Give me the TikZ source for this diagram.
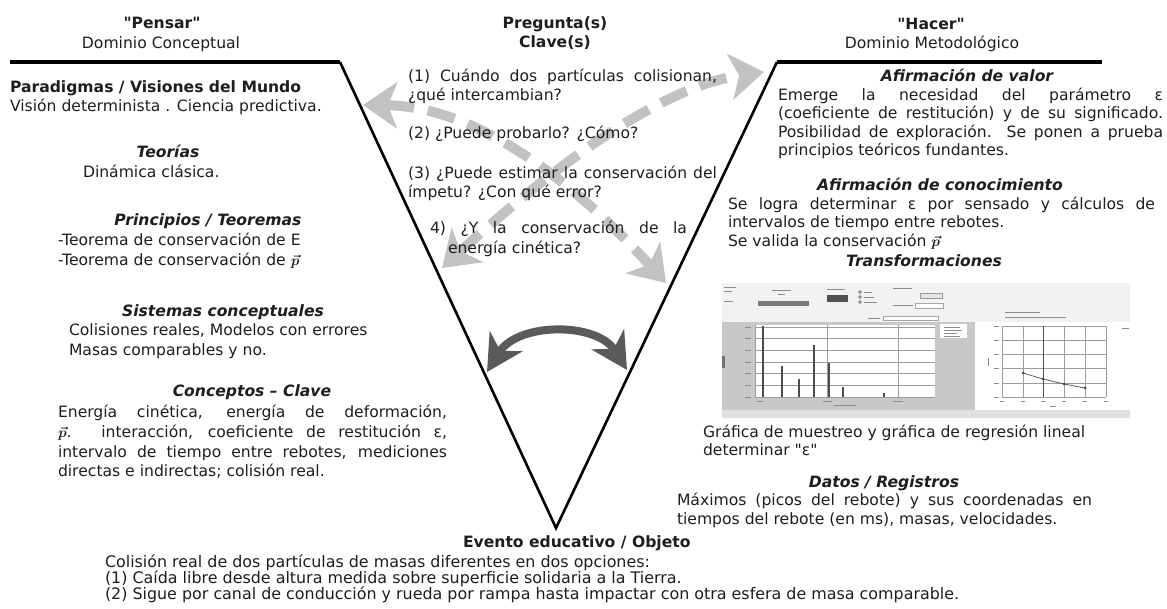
\documentclass[tikz,border=0pt]{standalone}
\usepackage{fontspec}
\usepackage{bm}
\setmainfont{DejaVu Sans}[Ligatures=TeXOff,ItalicFont={DejaVu Sans Oblique},BoldFont={DejaVu Sans Bold},BoldItalicFont={DejaVu Sans Bold Oblique}]
\usetikzlibrary{arrows.meta}
\definecolor{ink}{HTML}{1E1E1E}
\definecolor{arrowgray}{HTML}{C2C2C2}
\definecolor{arcgray}{HTML}{5A5A5A}
\definecolor{panelgray}{HTML}{ECECEC}
\definecolor{chartgray}{HTML}{C8C8C8}
\definecolor{gridgray}{HTML}{9C9C9C}
\definecolor{tinygray}{HTML}{8C8C8C}
% stretch one line of a justified paragraph to a given width
\newcommand\jl[2]{\makebox[#1][s]{#2}}
\newcommand\pvec{$\smash{\bm{\vec{p}}}$}

\tikzset{
  every node/.style={inner sep=0pt, outer sep=0pt, text=ink},
  body/.style={font=\fontsize{15.6}{19}\selectfont},
  headb/.style={font=\fontsize{15.6}{19}\selectfont\bfseries},
  secb/.style={font=\fontsize{15.6}{19}\selectfont\bfseries\itshape},
  foot/.style={font=\fontsize{15.9}{19}\selectfont},
  vtop/.style={draw=black, line width=3.2pt, line cap=butt},
  vside/.style={draw=black, line width=2.6pt, line join=miter},
  qarrow/.style={draw=arrowgray, line width=10pt, dash pattern=on 28pt off 14pt,
    {Stealth[length=34pt,width=46pt,inset=9pt]}-{Stealth[length=34pt,width=46pt,inset=9pt]}},
  arcarrow/.style={draw=arcgray, line width=8pt,
    {Stealth[length=36pt,width=38pt,inset=11pt]}-{Stealth[length=36pt,width=38pt,inset=11pt]}},
  gridl/.style={draw=gridgray, line width=0.7pt},
  spike/.style={draw=black!70, line width=1.4pt},
  tiny/.style={draw=tinygray, line width=0.9pt},
}

\begin{document}
\begin{tikzpicture}[x=1pt,y=-1pt]
\useasboundingbox (0,0) rectangle (1167,608);
\fill[white] (0,0) rectangle (1167,608);

% ---------- crossing question arrows (under the text) ----------
\coordinate (xa1) at (363,105);
\coordinate (xa2) at (666,283);
\coordinate (xb1) at (442,268);
\coordinate (xb2) at (764,72);
\draw[qarrow] (xa1) .. controls (470,106) and (565,172) .. (xa2);
\draw[qarrow] (xb1) .. controls (530,188) and (650,88) .. (xb2);

% ---------- the V ----------
\coordinate (tl) at (10,62);
\coordinate (cl) at (340,62);
\coordinate (vx) at (556,528);
\coordinate (cr) at (777,62);
\coordinate (tr) at (1102,62);
\draw[vtop] (tl) -- (cl);
\draw[vtop] (cr) -- (tr);
\draw[vside] (cl) -- (vx) -- (cr);

% ---------- interplay arc ----------
\coordinate (arcl) at (487,372);
\coordinate (arcr) at (627,370);
\draw[arcarrow] (arcl) .. controls (518,322) and (597,322) .. (arcr);

% ---------- headings ----------
\node[headb, anchor=base] (pensar) at (162,28) {"Pensar"};
\node[body, anchor=base] (domc) at (161,48) {Dominio Conceptual};
\node[headb, anchor=base] (preg) at (555,28) {Pregunta(s)};
\node[headb, anchor=base] (clave) at (555,47) {Clave(s)};
\node[headb, anchor=base] (hacer) at (931,29) {"Hacer"};
\node[body, anchor=base] (domm) at (932,48) {Dominio Metodológico};

% ---------- conceptual side ----------
\node[headb, anchor=base west] (parad) at (10,92) {Paradigmas / Visiones del Mundo};
\node[body, anchor=base west] (vision) at (10,111) {Visión determinista . Ciencia predictiva.};
\node[secb, anchor=base] (teor) at (168,157) {Teorías};
\node[body, anchor=base west] (dinam) at (83,177) {Dinámica clásica.};
\node[secb, anchor=base] (princ) at (208,225) {Principios / Teoremas};
\node[body, anchor=base west] (teo1) at (58,245) {-Teorema de conservación de E};
\node[body, anchor=base west] (teo2) at (58,265) {-Teorema de conservación de \pvec};
\node[secb, anchor=base] (sist) at (223,316) {Sistemas conceptuales};
\node[body, anchor=base west] (colis) at (69,335) {Colisiones reales, Modelos con errores};
\node[body, anchor=base west] (masas) at (69,355) {Masas comparables y no.};
\node[secb, anchor=base] (conc) at (252,396) {Conceptos – Clave};
\node[body, anchor=base west] (cc1) at (58,417) {\jl{389pt}{Energía cinética, energía de deformación,}};
\node[body, anchor=base west] (cc2) at (58,437) {\jl{389pt}{\pvec. interacción, coeficiente de restitución ε,}};
\node[body, anchor=base west] (cc3) at (58,457) {\jl{389pt}{intervalo de tiempo entre rebotes, mediciones}};
\node[body, anchor=base west] (cc4) at (58,476) {directas e indirectas; colisión real.};

% ---------- key questions ----------
\node[body, anchor=base west] (q1a) at (408,81) {\jl{309pt}{(1) Cuándo dos partículas colisionan,}};
\node[body, anchor=base west] (q1b) at (408,100) {¿qué intercambian?};
\node[body, anchor=base west] (q2) at (408,138) {(2) ¿Puede probarlo? ¿Cómo?};
\node[body, anchor=base west] (q3a) at (408,178) {\jl{309pt}{(3) ¿Puede estimar la conservación del}};
\node[body, anchor=base west] (q3b) at (408,197) {ímpetu? ¿Con qué error?};
\node[body, anchor=base west] (q4a) at (430,233) {\jl{257pt}{4) ¿Y la conservación de la}};
\node[body, anchor=base west] (q4b) at (448,253) {energía cinética?};

% ---------- methodological side ----------
\node[secb, anchor=base] (afv) at (967,81) {Afirmación de valor};
\node[body, anchor=base west] (v1) at (778,100) {\jl{385pt}{Emerge la necesidad del parámetro ε}};
\node[body, anchor=base west] (v2) at (778,118) {\jl{385pt}{(coeficiente de restitución) y de su significado.}};
\node[body, anchor=base west] (v3) at (778,137) {\jl{385pt}{Posibilidad de exploración. Se ponen a prueba}};
\node[body, anchor=base west] (v4) at (778,155) {principios teóricos fundantes.};
\node[secb, anchor=base] (afc) at (940,190) {Afirmación de conocimiento};
\node[body, anchor=base west] (k1) at (728,209) {\jl{427pt}{Se logra determinar ε por sensado y cálculos de}};
\node[body, anchor=base west] (k2) at (728,227) {intervalos de tiempo entre rebotes.};
\node[body, anchor=base west] (k3) at (728,246) {Se valida la conservación \pvec};
\node[secb, anchor=base] (trans) at (924,266) {Transformaciones};

% ---------- software screenshot ----------
\fill[panelgray] (722,283) rectangle (1130,418);
\fill[black!5] (722,283) rectangle (1130,322);
% toolbar widgets
\draw[tiny] (724,287) -- (736,287) (724,291) -- (732,291) (724,301) -- (733,301);
\draw[tiny] (772,290) -- (791,290) (778,294) -- (785,294);
\fill[black!52] (758,301) rectangle (809,306);
\draw[tiny] (827,289) -- (845,289);
\fill[black!68] (827,295) rectangle (848,302);
\foreach \yy in {292,297,302} {
  \draw[black!55, line width=0.6pt] (860,\yy) circle (1.4);
}
\draw[tiny] (864,292) -- (872,292) (864,297) -- (874,297) (864,302) -- (877,302);
\draw[tiny] (893,288) -- (912,288) (893,305) -- (913,305) (868,318) -- (880,318);
\draw[black!40, fill=black!10, line width=0.5pt] (920,293) rectangle (942,298);
\draw[black!35, fill=white, line width=0.5pt] (915,303) rectangle (943,308);
\draw[black!35, fill=white, line width=0.5pt] (883,316) rectangle (938,320);
\draw[tiny] (1005,312) -- (1040,312) (1005,317) -- (1066,317);
% sampling chart
\fill[chartgray] (722,322) rectangle (975,410);
\fill[black!55] (722,356) rectangle (725,368);
\fill[white] (755,325) rectangle (935,398);
\foreach \yy in {327,338,350,362,373,385,397} {
  \draw[gridl] (755,\yy) -- (935,\yy);
  \draw[tiny] (745,\yy) -- (751,\yy);
}
\foreach \xx in {755,827,898} {
  \draw[gridl] (\xx,325) -- (\xx,398);
}
\foreach \xx/\tt in {763/326,782/366,799/379,814/345,829/363,843/387,884/393} {
  \draw[spike] (\xx,397) -- (\xx,\tt);
}
\draw[tiny] (757,401) -- (763,401) (823,401) -- (832,401) (893,401) -- (903,401) (834,405) -- (856,405);
\fill[white] (940,324) rectangle (967,338);
\draw[tiny] (944,327) -- (960,327) (944,330) -- (962,330) (944,333) -- (957,333) (944,336) -- (960,336);
% regression chart
\fill[white] (975,322) rectangle (1130,410);
\foreach \yy in {326,340,354,368,383,397} {
  \draw[gridl] (1002,\yy) -- (1106,\yy);
  \draw[tiny] (994,\yy) -- (999,\yy);
}
\foreach \xx in {1002,1023,1043,1064,1085,1106} {
  \draw[gridl] (\xx,326) -- (\xx,397);
  \draw[tiny] (\xx-2,401) -- (\xx+2,401);
}
\draw[black!70, line width=1pt] (1043,326) -- (1043,397);
\draw[tiny] (988,358) -- (988,366) (1050,406) -- (1056,406) (1122,328) -- (1129,328);
\draw[black!65, line width=0.8pt] (1023,373) -- (1043,379) -- (1064,384) -- (1085,388);
\foreach \xx/\yy in {1023/373,1043/379,1064/384,1085/388} {
  \fill[black!70] (\xx,\yy) circle (1.5);
}
\fill[black!12] (722,410) rectangle (1130,418);

\node[body, anchor=base west] (g1) at (703,437) {Gráfica de muestreo y gráfica de regresión lineal};
\node[body, anchor=base west] (g2) at (703,455) {determinar "ε"};
\node[secb, anchor=base] (datos) at (884,487) {Datos / Registros};
\node[body, anchor=base west] (d1) at (677,505) {\jl{415pt}{Máximos (picos del rebote) y sus coordenadas en}};
\node[body, anchor=base west] (d2) at (677,524) {tiempos del rebote (en ms), masas, velocidades.};

% ---------- educational event ----------
\node[headb, anchor=base west] (evento) at (463,547) {Evento educativo / Objeto};
\node[foot, anchor=base west] (e1) at (105,567) {Colisión real de dos partículas de masas diferentes en dos opciones:};
\node[foot, anchor=base west] (e2) at (105,583) {(1) Caída libre desde altura medida sobre superficie solidaria a la Tierra.};
\node[foot, anchor=base west] (e3) at (105,599) {(2) Sigue por canal de conducción y rueda por rampa hasta impactar con otra esfera de masa comparable.};
\end{tikzpicture}
\end{document}
